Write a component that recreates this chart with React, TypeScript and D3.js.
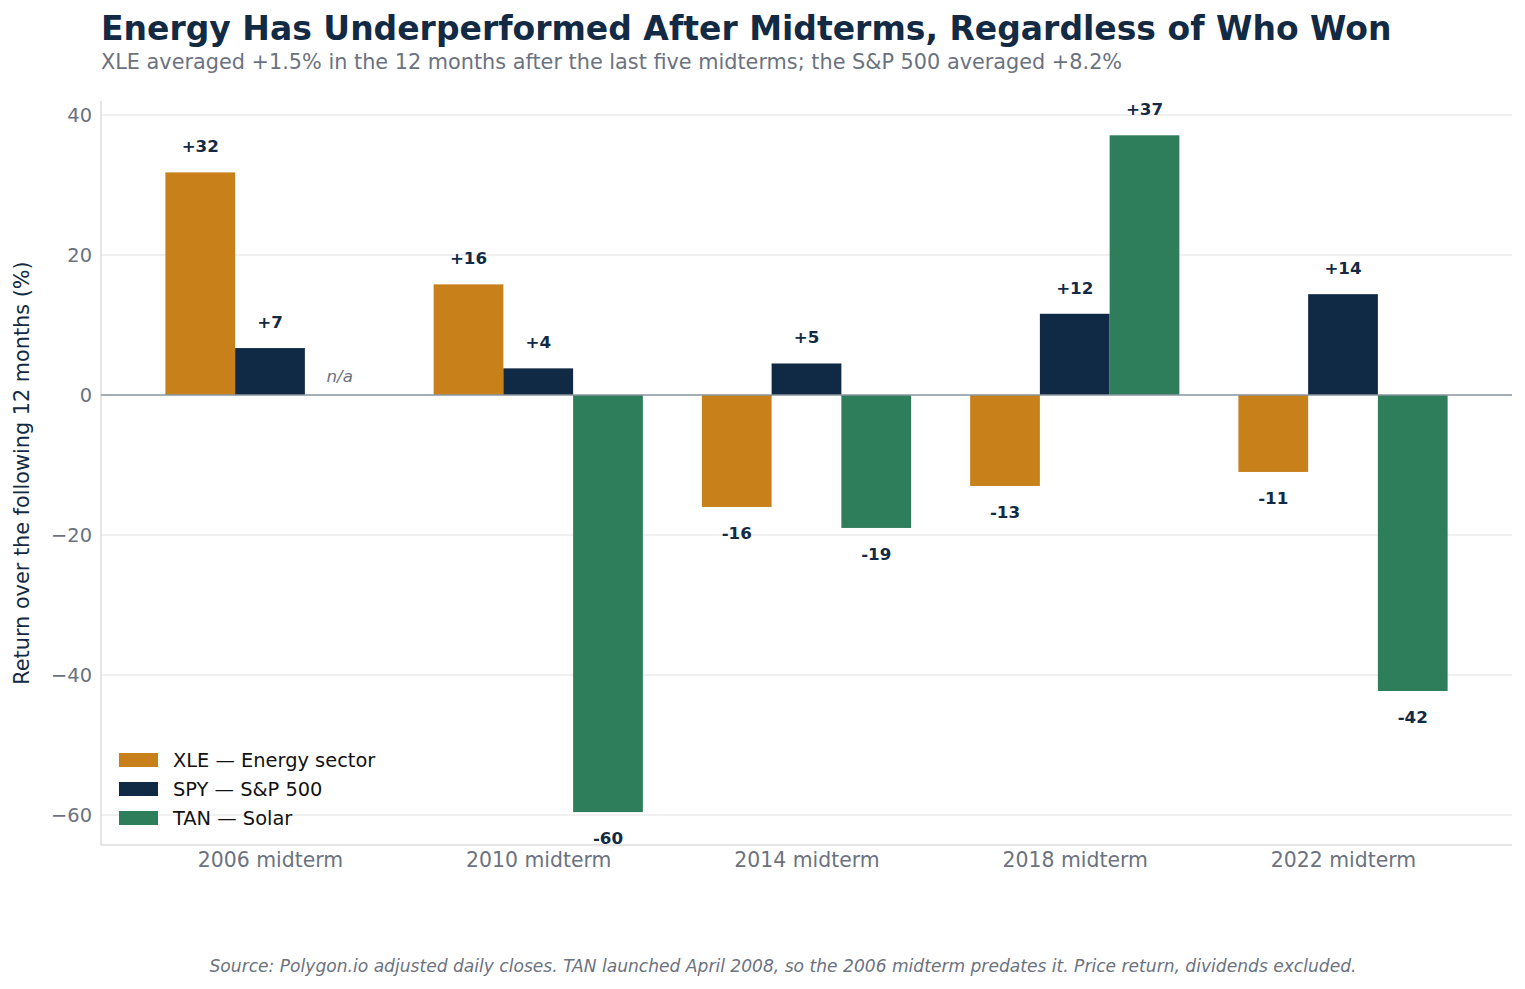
import React, { useEffect, useRef } from 'react';
import * as d3 from 'd3';

const categories = ['2006 midterm', '2010 midterm', '2014 midterm', '2018 midterm', '2022 midterm'];
const seriesNames = ['XLE — Energy sector', 'SPY — S&P 500', 'TAN — Solar'];
const seriesColors = ['#c8811a', '#102a45', '#2e7d5b'];
const xleValues: (number | null)[] = [31.8, 15.8, -16.0, -13.0, -11.0];
const spyValues: (number | null)[] = [6.7, 3.8, 4.5, 11.6, 14.4];
const tanValues: (number | null)[] = [null, -59.6, -19.0, 37.1, -42.3];
const yTicks = [-60, -40, -20, 0, 20, 40];

const App: React.FC = () => {
  const ref = useRef<SVGSVGElement>(null);

  useEffect(() => {
    const svg = d3.select(ref.current);
    svg.html('');

    const W = 1525, H = 989;
    const margin = { top: 101, right: 13, bottom: 144, left: 101 };
    const width = W - margin.left - margin.right;
    const height = H - margin.top - margin.bottom;
    const font = 'DejaVu Sans, sans-serif';

    svg.attr('width', W).attr('height', H).style('font-family', font);

    // titles
    svg.append('text').attr('x', 101).attr('y', 40)
      .attr('font-size', 33).attr('font-weight', 'bold').attr('fill', '#132a45')
      .text('Energy Has Underperformed After Midterms, Regardless of Who Won');
    svg.append('text').attr('x', 101).attr('y', 69)
      .attr('font-size', 20.8).attr('fill', '#6b7280')
      .text('XLE averaged +1.5% in the 12 months after the last five midterms; the S&P 500 averaged +8.2%');

    const g = svg.append('g').attr('transform', `translate(${margin.left},${margin.top})`);

    const x = d3.scaleLinear().domain([-0.63, categories.length - 1 + 0.63]).range([0, width]);
    const y = d3.scaleLinear().domain([-64.3, 42]).range([height, 0]);
    const barW = x(0.26) - x(0);

    // grid
    g.append('g').selectAll('line').data(yTicks.filter(t => t !== 0)).enter().append('line')
      .attr('x1', 0).attr('x2', width)
      .attr('y1', d => y(d)).attr('y2', d => y(d))
      .attr('stroke', '#ebebeb').attr('stroke-width', 1.5);

    // y axis
    const yAxis = g.append('g').call(d3.axisLeft(y).tickValues(yTicks).tickSize(0).tickPadding(9)
      .tickFormat(d => (d as number) < 0 ? `\u2212${Math.abs(d as number)}` : `${d}`));
    yAxis.select('.domain').remove();
    yAxis.selectAll('text').attr('font-size', 19.4).attr('fill', '#6b7280').attr('font-family', font);

    // x axis
    const xAxis = g.append('g').attr('transform', `translate(0,${height})`)
      .call(d3.axisBottom(x).tickValues(d3.range(categories.length)).tickSize(0).tickPadding(8)
        .tickFormat(d => categories[d as number]));
    xAxis.select('.domain').remove();
    xAxis.selectAll('text').attr('font-size', 20.4).attr('fill', '#6b7280').attr('font-family', font);

    // spines
    g.append('line').attr('x1', 0).attr('x2', 0).attr('y1', 0).attr('y2', height)
      .attr('stroke', '#dddddd').attr('stroke-width', 1.5);
    g.append('line').attr('x1', 0).attr('x2', width).attr('y1', height).attr('y2', height)
      .attr('stroke', '#dddddd').attr('stroke-width', 1.5);

    const series = [xleValues, spyValues, tanValues];
    series.forEach((vals, si) => {
      const offset = (si - 1) * 0.26;
      vals.forEach((v, ci) => {
        const cx = x(ci + offset);
        if (v === null) {
          g.append('text').attr('x', cx).attr('y', y(2.7)).attr('dy', '0.35em')
            .attr('text-anchor', 'middle').attr('font-size', 16.7).attr('font-style', 'italic')
            .attr('fill', '#6b7280').text('n/a');
          return;
        }
        g.append('rect')
          .attr('x', cx - barW / 2).attr('width', barW)
          .attr('y', y(Math.max(0, v))).attr('height', Math.abs(y(v) - y(0)))
          .attr('fill', seriesColors[si]);
        const ly = v >= 0 ? y(v) - 26 : y(v) + 26;
        g.append('text').attr('x', cx).attr('y', ly).attr('dy', '0.35em')
          .attr('text-anchor', 'middle').attr('font-size', 16.7).attr('font-weight', 'bold')
          .attr('fill', '#132a45')
          .text(`${v >= 0 ? '+' : '-'}${Math.round(Math.abs(v))}`);
      });
    });

    // zero line
    g.append('line').attr('x1', 0).attr('x2', width).attr('y1', y(0)).attr('y2', y(0))
      .attr('stroke', '#8a949e').attr('stroke-width', 1.5);

    // y label
    svg.append('text')
      .attr('transform', `translate(29,${margin.top + height / 2}) rotate(-90)`)
      .attr('text-anchor', 'middle').attr('font-size', 20.8).attr('fill', '#132a45')
      .text('Return over the following 12 months (%)');

    // legend
    const legend = svg.append('g').attr('transform', 'translate(119,753)');
    seriesNames.forEach((name, i) => {
      legend.append('rect').attr('x', 0).attr('y', i * 29).attr('width', 39).attr('height', 14)
        .attr('fill', seriesColors[i]);
      legend.append('text').attr('x', 54).attr('y', i * 29 + 7).attr('dy', '0.35em')
        .attr('font-size', 19.4).attr('fill', '#111111').text(name);
    });

    // footer
    svg.append('text').attr('x', 783).attr('y', 972).attr('text-anchor', 'middle')
      .attr('font-size', 17.1).attr('font-style', 'italic').attr('fill', '#6b7280')
      .text('Source: Polygon.io adjusted daily closes. TAN launched April 2008, so the 2006 midterm predates it. Price return, dividends excluded.');
  }, []);

  return <svg ref={ref} style={{ position: 'absolute', left: 0, top: 0, display: 'block' }}></svg>;
};

export default App;
